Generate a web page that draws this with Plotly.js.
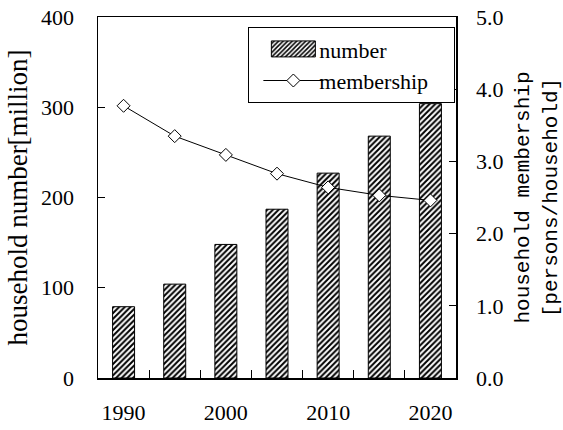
<!DOCTYPE html>
<html>
<head>
<meta charset="utf-8">
<script src="https://cdn.plot.ly/plotly-3.0.1.min.js"></script>
<style>html,body{margin:0;padding:0;background:#fff;}#chart{width:563px;height:430px;}</style>
</head>
<body>
<div id="chart"></div>
<script>
const years = [1990, 1995, 2000, 2005, 2010, 2015, 2020];
const householdNumber = [79, 104, 148, 187, 227, 268, 304];
const householdMembership = [3.77, 3.35, 3.09, 2.83, 2.64, 2.53, 2.46];
const xTickLabels = ['1990', '2000', '2010', '2020'];
const xTickVals = [1990, 2000, 2010, 2020];
const xMinorTicks = [1992.5, 1997.5, 2002.5, 2007.5, 2012.5, 2017.5];

const serif = 'Liberation Serif';
const traces = [
  {
    type: 'bar', name: 'number', x: years, y: householdNumber, width: 2.15,
    marker: {color: '#ffffff', line: {color: '#000', width: 1},
      pattern: {shape: '/', fgcolor: '#000', bgcolor: '#fff', size: 4, solidity: 0.5}},
    xaxis: 'x', yaxis: 'y'
  },
  {
    type: 'scatter', mode: 'lines+markers', name: 'membership', x: years, y: householdMembership,
    line: {color: '#000', width: 1},
    marker: {symbol: 'diamond', size: 10, color: '#fff', line: {color: '#000', width: 1}},
    xaxis: 'x', yaxis: 'y2'
  }
];

const layout = {
  width: 563, height: 430,
  margin: {l: 98, r: 107, t: 17, b: 52, autoexpand: false},
  paper_bgcolor: '#fff', plot_bgcolor: '#fff',
  font: {family: serif, size: 22, color: '#000'},
  showlegend: true,
  legend: {x: 0.42, xanchor: 'left', y: 0.972, yanchor: 'top', bordercolor: '#000', borderwidth: 1,
    orientation: 'h', entrywidth: 130, entrywidthmode: 'pixels',
    bgcolor: '#fff', font: {family: serif, size: 22, color: '#000'}, itemwidth: 60, traceorder: 'normal'},
  bargap: 0,
  xaxis: {
    range: [1987.5, 2022.5], tickvals: xTickVals, ticktext: xTickLabels, ticks: '',
    showline: true, linecolor: '#000', linewidth: 1.5, mirror: true, showgrid: false, zeroline: false,
    ticklabelstandoff: 14, tickfont: {family: serif, size: 22},
    minor: {tickvals: xMinorTicks, ticks: 'inside', ticklen: 8, tickcolor: '#000', tickwidth: 1, showgrid: false}
  },
  yaxis: {
    range: [0, 400], tickvals: [0, 100, 200, 300, 400], ticks: 'inside', ticklen: 7, tickcolor: '#000',
    showline: true, linecolor: '#000', linewidth: 1.5, showgrid: false, zeroline: false,
    ticklabelstandoff: 18, tickfont: {family: serif, size: 22},
    title: {text: 'household number[million]', font: {family: 'Liberation Serif', size: 27}, standoff: 5}
  },
  yaxis2: {
    overlaying: 'y', side: 'right', range: [0, 5], tickvals: [0, 1, 2, 3, 4, 5], tickformat: '.1f',
    ticks: 'inside', ticklen: 7, tickcolor: '#000',
    showline: true, linecolor: '#000', linewidth: 1.5, showgrid: false, zeroline: false,
    ticklabelstandoff: 14, tickfont: {family: serif, size: 22},
    title: {text: 'household membership<br>[persons/household]', font: {family: 'Courier New, Liberation Mono, monospace', size: 21}, standoff: 12}
  }
};

function adjustLegendSymbols() {
  const groups = document.querySelectorAll('#chart .legend .traces');
  if (groups.length > 0) {
    const p = groups[0].querySelector('.legendpoints path');
    if (p) p.setAttribute('d', 'M31,8H-13V-8H31Z');
  }
  if (groups.length > 1) {
    groups[1].querySelectorAll('.legendlines, .legendsymbols').forEach(function (g) {
      g.setAttribute('transform', 'translate(9,0)');
    });
  }
}
Plotly.newPlot('chart', traces, layout, {displayModeBar: false, staticPlot: true}).then(adjustLegendSymbols);
</script>
</body>
</html>
